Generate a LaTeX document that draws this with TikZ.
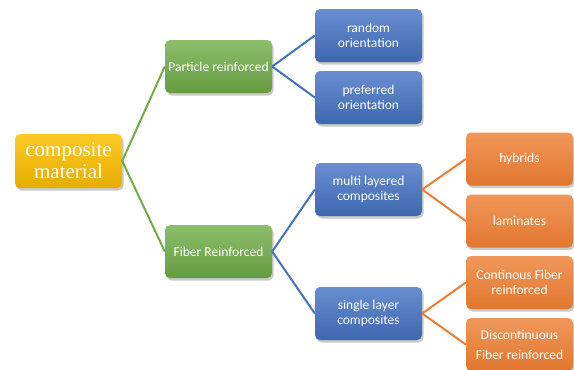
\documentclass[tikz,border=0pt]{standalone}
\usepackage{fontspec}
\setmainfont{Carlito}
\newfontfamily\rootfont{Liberation Serif}
\usetikzlibrary{shadows}
\definecolor{cgreen}{HTML}{70AD47}
\definecolor{cblue}{HTML}{4472C4}
\definecolor{corange}{HTML}{ED7D31}
\definecolor{cgold}{HTML}{FFC000}
\tikzset{
  box/.style={rounded corners=5pt, minimum width=107pt, minimum height=53pt,
    inner sep=2pt, align=center, text=white, font=\fontsize{13.5}{15}\selectfont,
    drop shadow={shadow xshift=1.5pt, shadow yshift=-2.5pt, opacity=0.35, fill=black!60}},
  greenbox/.style={box, top color=cgreen!80!white, bottom color=cgreen!90!black},
  bluebox/.style={box, top color=cblue!80!white, bottom color=cblue!90!black},
  orangebox/.style={box, top color=corange!80!white, bottom color=corange!95!black},
  rootbox/.style={box, minimum height=54pt, top color=cgold!85!white, bottom color=cgold!90!black,
    font=\rootfont\fontsize{21}{22}\selectfont},
  glink/.style={draw=cgreen, line width=2pt},
  blink/.style={draw=cblue, line width=2pt},
  olink/.style={draw=corange, line width=2pt}
}
\begin{document}
\begin{tikzpicture}[x=1pt,y=-1pt]
\useasboundingbox (0,0) rectangle (574,370);
\fill[white] (0,0) rectangle (574,370);
\node[rootbox] (root) at (68.5,161) {composite\\material};
\node[greenbox] (part) at (218.5,66.5) {Particle reinforced};
\node[greenbox] (fib) at (218.5,251.5) {Fiber Reinforced};
\node[bluebox] (rand) at (368.5,35.5) {random\\orientation};
\node[bluebox] (pref) at (368.5,97.5) {preferred\\orientation};
\node[bluebox] (multi) at (368.5,189.5) {multi layered\\composites};
\node[bluebox] (single) at (368.5,313.5) {single layer\\composites};
\node[orangebox] (hyb) at (519.5,159) {hybrids};
\node[orangebox] (lam) at (519.5,221) {laminates};
\node[orangebox] (cont) at (519.5,282.5) {Continous Fiber\\reinforced};
\node[orangebox, font=\fontsize{13.5}{20}\selectfont] (disc) at (519.5,344.5) {Discontinuous\\Fiber reinforced};
\draw[glink] (root.east) -- (part.west);
\draw[glink] (root.east) -- (fib.west);
\draw[blink] (part.east) -- (rand.west);
\draw[blink] (part.east) -- (pref.west);
\draw[blink] (fib.east) -- (multi.west);
\draw[blink] (fib.east) -- (single.west);
\draw[olink] (multi.east) -- (hyb.west);
\draw[olink] (multi.east) -- (lam.west);
\draw[olink] (single.east) -- (cont.west);
\draw[olink] (single.east) -- (disc.west);
\end{tikzpicture}
\end{document}
